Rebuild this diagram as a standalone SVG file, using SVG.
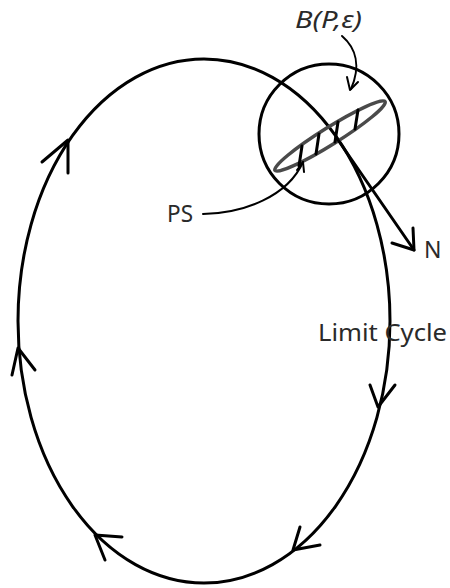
<svg xmlns="http://www.w3.org/2000/svg" width="450" height="588" viewBox="0 0 450 588">
<style>
.ln{fill:none;stroke:#000;stroke-width:3;stroke-linecap:round;stroke-linejoin:round}
.thin{fill:none;stroke:#000;stroke-width:2;stroke-linecap:round;stroke-linejoin:round}
.lbl{font-family:"Noto Sans","Open Sans",sans-serif;font-size:23px;fill:#2a2a2a}
.it{font-style:italic;font-size:24px}
</style>
<rect width="450" height="588" fill="#fff"/>
<g id="limit-cycle">
<ellipse cx="204" cy="321" rx="186" ry="262" class="ln"/>
<path class="ln" d="M42,162 L68,140 L68,173"/>
<path class="ln" d="M12,375 L18,348 L35,370"/>
<path class="ln" d="M370,385 L378,407 L395,385"/>
<path class="ln" d="M300,527 L293,550 L320,545"/>
<path class="ln" d="M122,537 L95,535 L105,560"/>
</g>
<g id="ball">
<circle cx="329" cy="134" r="70" class="ln"/>
</g>
<g id="ps-set">
<ellipse cx="330" cy="136" rx="65" ry="8.5" transform="rotate(-32 330 136)" fill="none" stroke="#4a4a4a" stroke-width="3.5"/>
<path class="ln" d="M302,146 L299,166 M319,134 L316,154 M338,122 L335,142 M358,110 L355,129"/>
</g>
<g id="connectors">
<path class="ln" d="M336,137 L414,250"/>
<path class="ln" d="M413,228 L414,250 L392,243"/>
<path class="thin" d="M342,36 C356,48 361,66 351,89"/>
<path class="thin" d="M347,77 L350,90 L358,82"/>
<path class="thin" d="M203,214 C245,213 288,196 303,162"/>
<path class="thin" d="M297,170 L303,162 L304,172"/>
</g>
<g id="labels">
<text class="lbl it" x="295" y="28" textLength="67" lengthAdjust="spacingAndGlyphs">B(P,ε)</text>
<text class="lbl" x="167" y="222" textLength="26" lengthAdjust="spacingAndGlyphs">PS</text>
<text class="lbl" x="424" y="258">N</text>
<text class="lbl" x="318" y="341" textLength="129" lengthAdjust="spacingAndGlyphs">Limit Cycle</text>
</g>
</svg>
